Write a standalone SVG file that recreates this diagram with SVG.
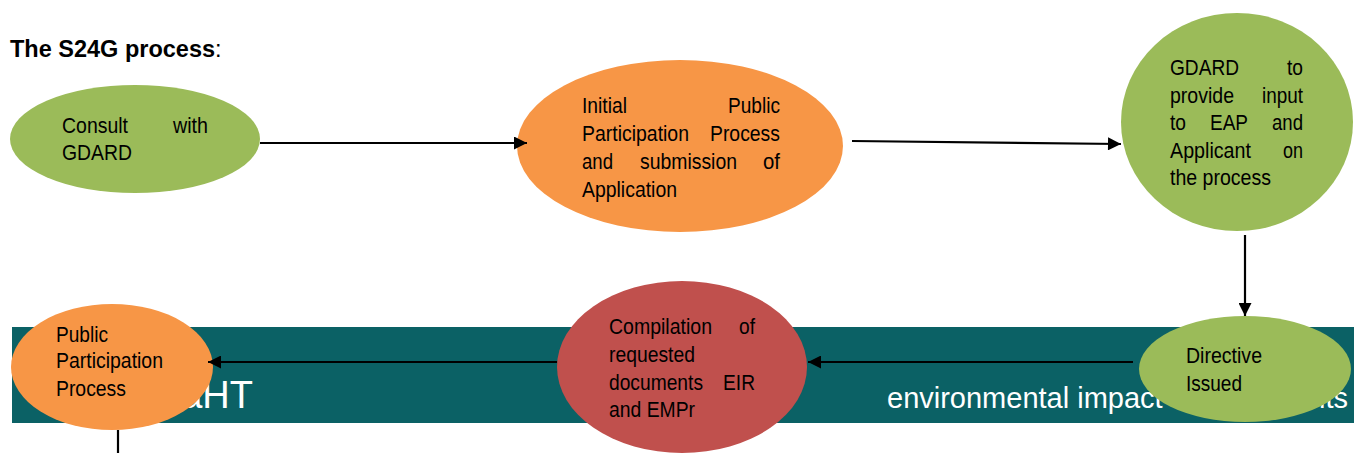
<svg xmlns="http://www.w3.org/2000/svg" width="1354" height="453" viewBox="0 0 1354 453">
<style>
text{font-family:"Liberation Sans",Arial,sans-serif;}
.t{font-size:22px;fill:#000;}
.band{fill:#0b6165;}
.bt{fill:#fff;}
.green{fill:#9bbb59;}
.orange{fill:#f79646;}
.red{fill:#c0504d;}
.c{stroke:#000;stroke-width:2.2;fill:none;}
</style>
<defs>
<marker id="ah" viewBox="0 0 10 10" refX="10" refY="5" markerUnits="userSpaceOnUse" markerWidth="15" markerHeight="13" orient="auto">
<path d="M0,0 L10,5 L0,10 z" fill="#000"/>
</marker>
</defs>
<rect width="1354" height="453" fill="#fff"/>
<g id="background">
<rect class="band" x="12" y="327" width="1342" height="96"/>
<text class="bt" x="253" y="408" font-size="38" text-anchor="end">aHT</text>
<text class="bt" x="887" y="408" font-size="29">environmental impact</text>
<text class="bt" x="1348" y="408" font-size="29" text-anchor="end">nts</text>
</g>
<g id="title">
<text x="10" y="57" font-size="23.5" font-weight="bold">The S24G process<tspan font-weight="normal">:</tspan></text>
</g>
<g id="node-consult">
<ellipse class="green" cx="135" cy="139" rx="125" ry="54"/>
<text class="t" x="62" y="133" textLength="66" lengthAdjust="spacingAndGlyphs">Consult</text>
<text class="t" x="173" y="133" textLength="35" lengthAdjust="spacingAndGlyphs">with</text>
<text class="t" x="62" y="160" textLength="70" lengthAdjust="spacingAndGlyphs">GDARD</text>
</g>
<g id="node-initial">
<ellipse class="orange" cx="680" cy="146" rx="163" ry="86"/>
<text class="t" x="582" y="113" textLength="45" lengthAdjust="spacingAndGlyphs">Initial</text>
<text class="t" x="728" y="113" textLength="52" lengthAdjust="spacingAndGlyphs">Public</text>
<text class="t" x="582" y="141" textLength="107" lengthAdjust="spacingAndGlyphs">Participation</text>
<text class="t" x="710" y="141" textLength="70" lengthAdjust="spacingAndGlyphs">Process</text>
<text class="t" x="582" y="169" textLength="31" lengthAdjust="spacingAndGlyphs">and</text>
<text class="t" x="640" y="169" textLength="97" lengthAdjust="spacingAndGlyphs">submission</text>
<text class="t" x="763" y="169" textLength="17" lengthAdjust="spacingAndGlyphs">of</text>
<text class="t" x="582" y="197" textLength="95" lengthAdjust="spacingAndGlyphs">Application</text>
</g>
<g id="node-gdard-input">
<ellipse class="green" cx="1237" cy="122" rx="116" ry="109"/>
<text class="t" x="1170" y="75" textLength="69" lengthAdjust="spacingAndGlyphs">GDARD</text>
<text class="t" x="1287" y="75" textLength="16" lengthAdjust="spacingAndGlyphs">to</text>
<text class="t" x="1170" y="103" textLength="64" lengthAdjust="spacingAndGlyphs">provide</text>
<text class="t" x="1262" y="103" textLength="41" lengthAdjust="spacingAndGlyphs">input</text>
<text class="t" x="1170" y="130" textLength="16" lengthAdjust="spacingAndGlyphs">to</text>
<text class="t" x="1210" y="130" textLength="38" lengthAdjust="spacingAndGlyphs">EAP</text>
<text class="t" x="1272" y="130" textLength="31" lengthAdjust="spacingAndGlyphs">and</text>
<text class="t" x="1170" y="158" textLength="81" lengthAdjust="spacingAndGlyphs">Applicant</text>
<text class="t" x="1283" y="158" textLength="20" lengthAdjust="spacingAndGlyphs">on</text>
<text class="t" x="1170" y="185" textLength="101" lengthAdjust="spacingAndGlyphs">the process</text>
</g>
<g id="node-directive">
<ellipse class="green" cx="1245" cy="369" rx="106" ry="53"/>
<text class="t" x="1186" y="363" textLength="76" lengthAdjust="spacingAndGlyphs">Directive</text>
<text class="t" x="1186" y="391" textLength="56" lengthAdjust="spacingAndGlyphs">Issued</text>
</g>
<g id="node-compilation">
<ellipse class="red" cx="682" cy="367" rx="125" ry="86"/>
<text class="t" x="609" y="334" textLength="103" lengthAdjust="spacingAndGlyphs">Compilation</text>
<text class="t" x="739" y="334" textLength="16" lengthAdjust="spacingAndGlyphs">of</text>
<text class="t" x="609" y="362" textLength="86" lengthAdjust="spacingAndGlyphs">requested</text>
<text class="t" x="609" y="390" textLength="94" lengthAdjust="spacingAndGlyphs">documents</text>
<text class="t" x="723" y="390" textLength="32" lengthAdjust="spacingAndGlyphs">EIR</text>
<text class="t" x="609" y="417" textLength="86" lengthAdjust="spacingAndGlyphs">and EMPr</text>
</g>
<g id="node-public">
<ellipse class="orange" cx="112" cy="367" rx="101" ry="63"/>
<text class="t" x="56" y="342" textLength="52" lengthAdjust="spacingAndGlyphs">Public</text>
<text class="t" x="56" y="368" textLength="107" lengthAdjust="spacingAndGlyphs">Participation</text>
<text class="t" x="56" y="396" textLength="70" lengthAdjust="spacingAndGlyphs">Process</text>
</g>
<g id="connectors">
<path class="c" d="M260,143 H527" marker-end="url(#ah)"/>
<path class="c" d="M852,141 L1121,144" marker-end="url(#ah)"/>
<path class="c" d="M1245,235 V316" marker-end="url(#ah)"/>
<path class="c" d="M1133,362 H808" marker-end="url(#ah)"/>
<path class="c" d="M557,362 H208" marker-end="url(#ah)"/>
<path class="c" d="M118,430 V453"/>
</g>
</svg>
